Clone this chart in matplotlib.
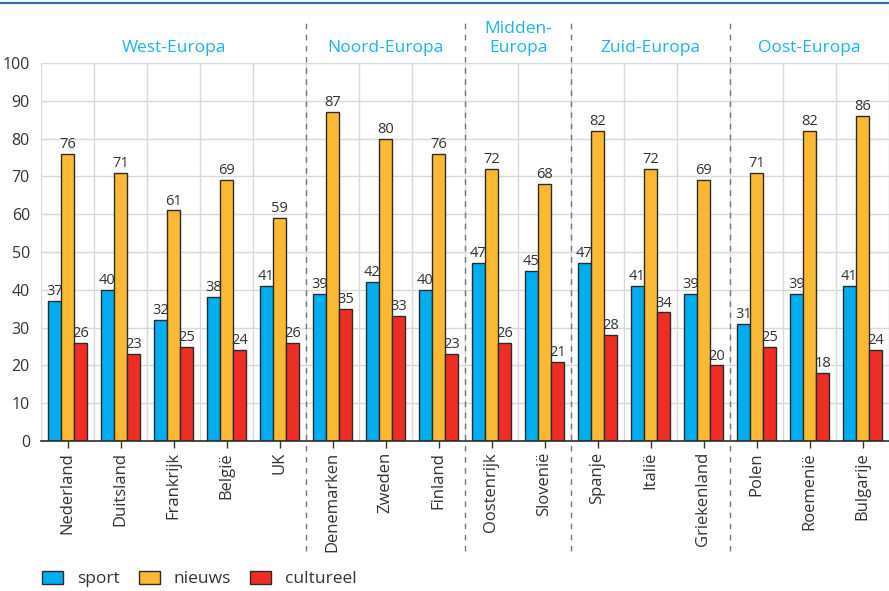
import matplotlib
matplotlib.use("Agg")
import matplotlib.pyplot as plt
import numpy as np
from matplotlib.lines import Line2D
from matplotlib.patches import Patch

plt.rcParams['font.family'] = ['Open Sans', 'DejaVu Sans']

countries = ["Nederland", "Duitsland", "Frankrijk", "België", "UK",
             "Denemarken", "Zweden", "Finland",
             "Oostenrijk", "Slovenië",
             "Spanje", "Italië", "Griekenland",
             "Polen", "Roemenië", "Bulgarije"]
sport = [37, 40, 32, 38, 41, 39, 42, 40, 47, 45, 47, 41, 39, 31, 39, 41]
nieuws = [76, 71, 61, 69, 59, 87, 80, 76, 72, 68, 82, 72, 69, 71, 82, 86]
cultureel = [26, 23, 25, 24, 26, 35, 33, 23, 26, 21, 28, 34, 20, 25, 18, 24]
groups = ["West-Europa", "Noord-Europa", "Midden-\nEuropa", "Zuid-Europa", "Oost-Europa"]
group_sizes = [5, 3, 2, 3, 3]
series_names = ["sport", "nieuws", "cultureel"]
colors = ["#00aeef", "#fbb832", "#ee2e24"]
text_c = "#333333"
group_c = "#1cb3ea"

fig = plt.figure(figsize=(8.89, 5.91), dpi=100)
ax = fig.add_axes([41/889, 150/591, 848/889, 378/591])

x = np.arange(len(countries))
w = 0.25
for i, (vals, col) in enumerate(zip([sport, nieuws, cultureel], colors)):
    pos = x + (i - 1) * w
    ax.bar(pos, vals, width=w, color=col, edgecolor="#2b2b2b", linewidth=1.0, zorder=3)
    for p, v in zip(pos, vals):
        ax.text(p, v + 0.5, str(v), ha="center", va="bottom", fontsize=10.5, color=text_c, zorder=4)

ax.set_xlim(-0.5, len(countries) - 0.5)
ax.set_ylim(0, 100)
ax.set_yticks(range(0, 101, 10))
ax.set_xticks(x)
ax.set_xticklabels(countries, rotation=90, fontsize=12, color=text_c)
ax.tick_params(axis="y", length=0, labelsize=11.5, labelcolor=text_c, pad=8)
ax.tick_params(axis="x", length=5, width=1, color=text_c, pad=3)

# grid
for yv in range(10, 101, 10):
    ax.axhline(yv, color="#d9d9d9", lw=1, zorder=1)
for xb in np.arange(-0.5, len(countries), 1.0):
    ax.axvline(xb, color="#d9d9d9", lw=1, zorder=1)

for s in ["top", "right", "left"]:
    ax.spines[s].set_visible(False)
ax.spines["bottom"].set_color("#2b2b2b")
ax.spines["bottom"].set_linewidth(1.2)
ax.spines["bottom"].set_zorder(5)

# group separators and labels
trans = ax.get_xaxis_transform()
bounds = np.cumsum([0] + group_sizes) - 0.5
for b in bounds[1:-1]:
    ax.add_line(Line2D([b, b], [-0.29, 1.115], transform=trans, color="#777777",
                       lw=1, ls=(0, (4, 4)), clip_on=False, zorder=2))
for g, (a, b) in zip(groups, zip(bounds[:-1], bounds[1:])):
    ax.text((a + b) / 2, 1.028, g, transform=trans, ha="center", va="baseline",
            fontsize=12.5, color=group_c, linespacing=1.25, multialignment="center")

# top line
fig.add_artist(Line2D([0, 1], [1 - 3/591, 1 - 3/591], transform=fig.transFigure,
                      color="#2f72a6", lw=1.6))

handles = [Patch(facecolor=c, edgecolor="#2b2b2b", linewidth=1.0) for c in colors]
fig.legend(handles, series_names, loc="center left", bbox_to_anchor=(0.03, 12/591),
           ncol=3, frameon=False, fontsize=12.5, handlelength=1.2, handleheight=0.75,
           columnspacing=1.1, handletextpad=0.8, labelcolor=text_c)

fig.savefig("out.png", dpi=100)
